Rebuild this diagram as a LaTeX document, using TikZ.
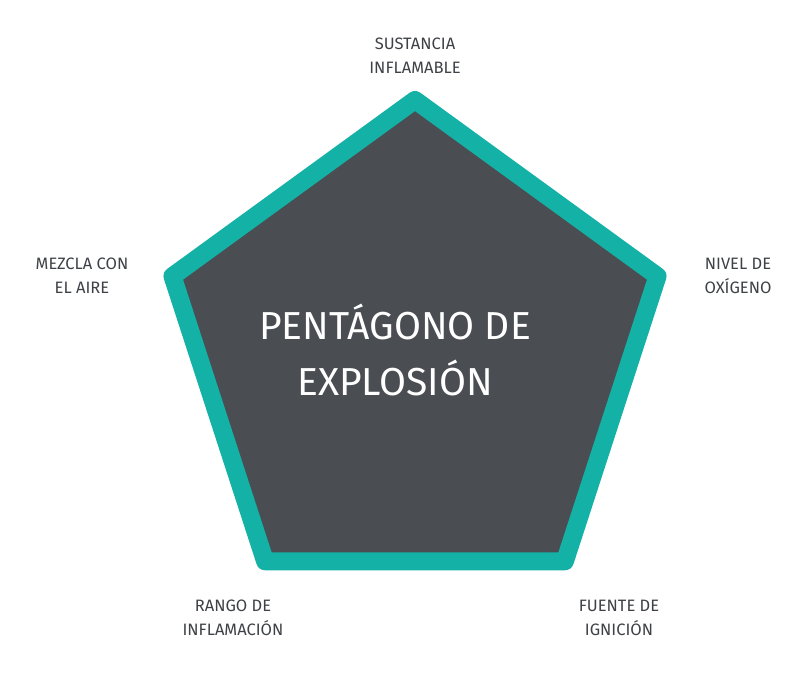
\documentclass[tikz,border=0pt]{standalone}
\usepackage{fontspec}
\setmainfont{Fira Sans}
\usetikzlibrary{positioning,calc}
\definecolor{teal}{HTML}{14B1A6}
\definecolor{slate}{HTML}{4A4D52}
\definecolor{ink}{HTML}{3E4146}
\tikzset{
  label/.style={text=ink,font=\fontsize{16.5}{24}\selectfont,align=center},
}
\begin{document}
\begin{tikzpicture}[x=1pt,y=-1pt]
   \useasboundingbox (0,0) rectangle (800,676);
   \coordinate (C) at (415,355);
   \foreach \i/\a in {1/-90,2/-18,3/54,4/126,5/198}
      \coordinate (v\i) at ($(C)+(\a:255)$);
   \draw[line width=18pt,line join=round,draw=teal,fill=slate]
      (v1) -- (v2) -- (v3) -- (v4) -- (v5) -- cycle;
   \node[text=white,font=\fontsize{39}{56}\selectfont,align=center] (title) at (395,350) {PENTÁGONO DE\\EXPLOSIÓN};
   \node[label] (top) at (415,56) {SUSTANCIA\\INFLAMABLE};
   \node[label] (right) at (738,276) {NIVEL DE\\OXÍGENO};
   \node[label] (left) at (82,276) {MEZCLA CON\\EL AIRE};
   \node[label] (bl) at (233,618) {RANGO DE\\INFLAMACIÓN};
   \node[label] (br) at (619,618) {FUENTE DE\\IGNICIÓN};
\end{tikzpicture}
\end{document}
